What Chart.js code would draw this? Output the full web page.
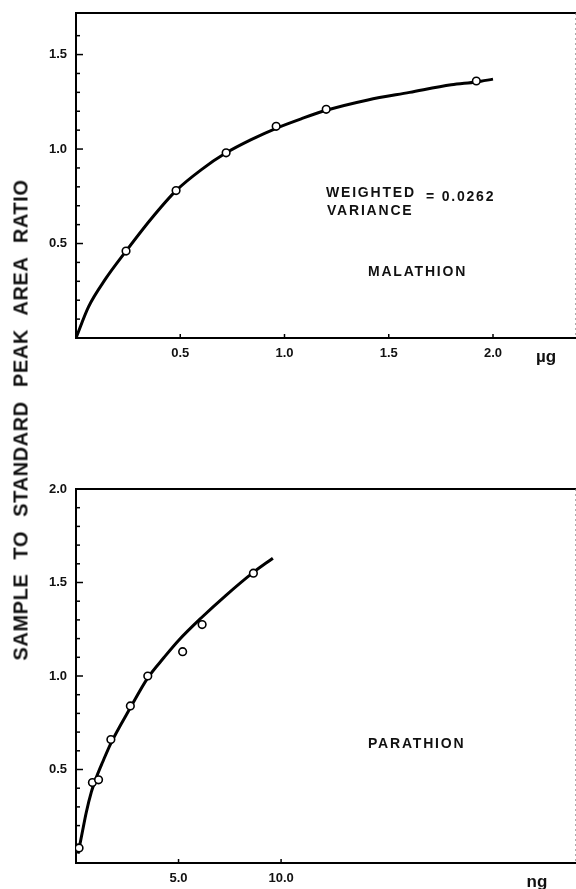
<!DOCTYPE html>
<html>
<head>
<meta charset="utf-8">
<script src="https://cdn.jsdelivr.net/npm/chart.js@4.4.0/dist/chart.umd.min.js"></script>
<style>
    body { margin: 0; background: #fff; width: 576px; height: 889px; position: relative; overflow: hidden; font-family: 'Liberation Sans', Arial, sans-serif; }
    #topChart { position: absolute; left: 0; top: 0; }
    #bottomChart { position: absolute; left: 0; top: 470px; }
    #yTitle {
        position: absolute; left: 21px; top: 420px;
        transform: translate(-50%, -50%) rotate(-90deg);
        white-space: nowrap; font-weight: bold; font-size: 20px;
        letter-spacing: 0.6px; word-spacing: 8px; color: #111;
    }
</style>
</head>
<body>
<canvas id="topChart" width="582" height="372"></canvas>
<canvas id="bottomChart" width="582" height="419"></canvas>
<div id="yTitle">SAMPLE TO STANDARD PEAK AREA RATIO</div>
<script>
// Malathion (µg)
const malX = [0.24, 0.48, 0.72, 0.96, 1.20, 1.92];
const malY = [0.46, 0.78, 0.98, 1.12, 1.21, 1.36];
const malFitX = [0, 0.06, 0.14, 0.24, 0.36, 0.48, 0.60, 0.72, 0.84, 0.96, 1.08, 1.20, 1.40, 1.60, 1.80, 1.92, 2.00];
const malFitY = [0, 0.165, 0.31, 0.46, 0.63, 0.78, 0.89, 0.98, 1.05, 1.11, 1.16, 1.205, 1.26, 1.30, 1.34, 1.355, 1.37];

// Parathion (ng)
const parX = [0.15, 0.8, 1.1, 1.7, 2.65, 3.5, 5.2, 6.15, 8.65];
const parY = [0.08, 0.43, 0.445, 0.66, 0.84, 1.00, 1.13, 1.275, 1.55];
const parFitX = [0.1, 0.3, 0.5, 0.75, 1.0, 1.3, 1.7, 2.65, 3.5, 4.3, 5.0, 6.1, 7.3, 8.6, 9.6];
const parFitY = [0.05, 0.16, 0.27, 0.38, 0.46, 0.54, 0.64, 0.83, 0.99, 1.10, 1.19, 1.31, 1.43, 1.55, 1.63];

const malXTicks = [0.5, 1.0, 1.5, 2.0];
const malYTicks = [0.5, 1.0, 1.5];
const parXTicks = [5, 10];
const parYTicks = [0.5, 1.0, 1.5, 2.0];

function pts(xs, ys) {
    return xs.map(function (x, i) { return { x: x, y: ys[i] }; });
}

function near(list, v) {
    return list.some(function (t) { return Math.abs(t - v) < 1e-6; });
}

// inward tick marks, open frame edges, unit and notes
const framePlugin = {
    id: 'frame',
    afterDraw: function (chart, args, opts) {
        const ctx = chart.ctx;
        const a = chart.chartArea;
        const xs = chart.scales.x;
        const ys = chart.scales.y;
        ctx.save();
        ctx.strokeStyle = '#000';
        ctx.lineWidth = 2;
        ctx.beginPath();
        ctx.moveTo(a.left - 1, a.top);
        ctx.lineTo(a.right, a.top);
        ctx.stroke();

        ctx.strokeStyle = '#777';
        ctx.lineWidth = 1;
        ctx.setLineDash([2, 3]);
        ctx.beginPath();
        ctx.moveTo(a.right - 0.5, a.top);
        ctx.lineTo(a.right - 0.5, a.bottom);
        ctx.stroke();
        ctx.setLineDash([]);

        ctx.strokeStyle = '#000';
        ctx.lineWidth = 1.5;
        ys.ticks.forEach(function (t) {
            const v = t.value;
            if (v <= 0 || Math.abs(v * 10 - Math.round(v * 10)) > 1e-6) return;
            const py = ys.getPixelForValue(v);
            const len = near(opts.yMajor, v) ? 7 : 4;
            ctx.beginPath();
            ctx.moveTo(a.left, py);
            ctx.lineTo(a.left + len, py);
            ctx.stroke();
        });
        xs.ticks.forEach(function (t) {
            if (!near(opts.xMajor, t.value)) return;
            const px = xs.getPixelForValue(t.value);
            ctx.beginPath();
            ctx.moveTo(px, a.bottom);
            ctx.lineTo(px, a.bottom - 4);
            ctx.stroke();
        });

        ctx.fillStyle = '#111';
        ctx.textBaseline = 'middle';
        ctx.font = 'bold 17px "Liberation Sans", Arial, sans-serif';
        ctx.textAlign = 'center';
        ctx.fillText(opts.unit, opts.unitAt[0], opts.unitAt[1]);

        ctx.textAlign = 'left';
        ctx.font = 'bold 14px "Liberation Sans", Arial, sans-serif';
        ctx.letterSpacing = '1.8px';
        opts.notes.forEach(function (n) {
            ctx.fillText(n.text, n.x, n.y);
        });
        ctx.restore();
    }
};

function makeChart(id, fit, data, xMax, yMax, xTicks, yTicks, xStep, xDigits, frame, padTop, axisH) {
    const tickFont = { family: '"Liberation Sans", Arial, sans-serif', size: 13, weight: 'bold' };
    return new Chart(document.getElementById(id).getContext('2d'), {
        type: 'scatter',
        data: {
            datasets: [
                {
                    data: data,
                    showLine: false,
                    pointRadius: 3.8,
                    pointBorderWidth: 1.6,
                    pointBorderColor: '#000',
                    pointBackgroundColor: '#fff',
                    order: 0
                },
                {
                    data: fit,
                    showLine: true,
                    borderColor: '#000',
                    borderWidth: 3,
                    pointRadius: 0,
                    cubicInterpolationMode: 'monotone',
                    order: 1
                }
            ]
        },
        options: {
            responsive: false,
            animation: false,
            layout: { padding: { top: padTop, right: 0, left: 0, bottom: 0 } },
            plugins: {
                legend: { display: false },
                tooltip: { enabled: false },
                frame: frame
            },
            scales: {
                x: {
                    type: 'linear',
                    min: 0,
                    max: xMax,
                    afterFit: function (s) {
                        s.height = axisH;
                        s.paddingLeft = 0;
                        s.paddingRight = 0;
                    },
                    border: { display: true, color: '#000', width: 2 },
                    grid: { display: false, drawTicks: false },
                    ticks: {
                        stepSize: xStep,
                        padding: 8,
                        autoSkip: false,
                        maxRotation: 0,
                        color: '#111',
                        font: tickFont,
                        callback: function (v) { return near(xTicks, v) ? v.toFixed(xDigits) : ''; }
                    }
                },
                y: {
                    min: 0,
                    max: yMax,
                    afterFit: function (s) {
                        s.width = 76;
                        s.paddingTop = 0;
                        s.paddingBottom = 0;
                    },
                    border: { display: true, color: '#000', width: 2 },
                    grid: { display: false, drawTicks: false },
                    ticks: {
                        stepSize: 0.1,
                        padding: 9,
                        autoSkip: false,
                        color: '#111',
                        font: tickFont,
                        callback: function (v) { return near(yTicks, v) ? v.toFixed(1) : ''; }
                    }
                }
            }
        },
        plugins: [framePlugin]
    });
}

makeChart('topChart', pts(malFitX, malFitY), pts(malX, malY), 2.4, 1.72,
    malXTicks, malYTicks, 0.5, 1,
    {
        xMajor: malXTicks, yMajor: malYTicks, unit: 'µg', unitAt: [546, 357],
        notes: [
            { text: 'WEIGHTED', x: 326, y: 193 },
            { text: 'VARIANCE', x: 327, y: 211 },
            { text: '= 0.0262', x: 426, y: 197 },
            { text: 'MALATHION', x: 368, y: 272 }
        ]
    }, 13, 34);

makeChart('bottomChart', pts(parFitX, parFitY), pts(parX, parY), 24.4, 2.0,
    parXTicks, parYTicks, 5, 1,
    {
        xMajor: parXTicks, yMajor: parYTicks, unit: 'ng', unitAt: [537, 882 - 470],
        notes: [
            { text: 'PARATHION', x: 368, y: 744 - 470 }
        ]
    }, 19, 26);
</script>
</body>
</html>
